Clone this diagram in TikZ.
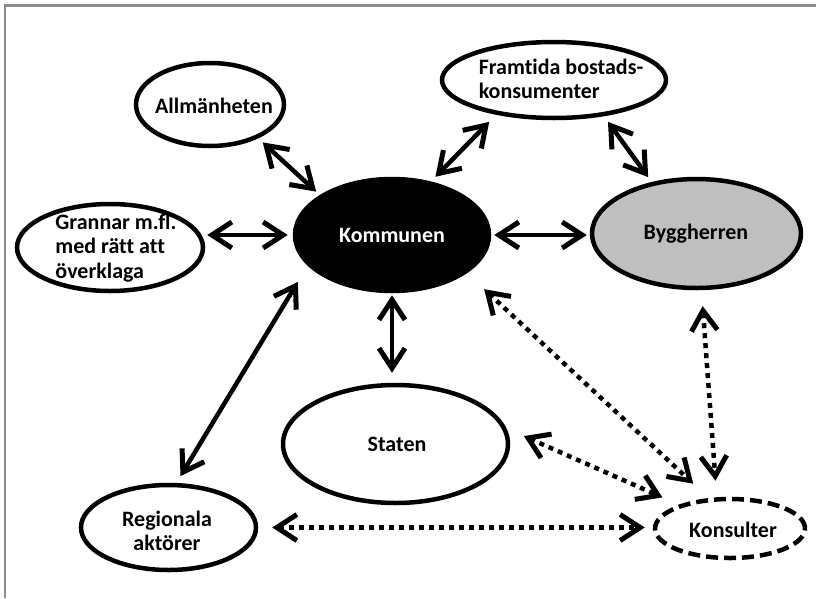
\documentclass[tikz,border=0pt]{standalone}
\usepackage{fontspec}
\setmainfont{Carlito}[RawFeature={-liga;-clig;-calt;-dlig}]
\usetikzlibrary{arrows.meta,shapes.geometric}
\definecolor{framegray}{gray}{0.55}
\definecolor{builderfill}{gray}{0.75}
\begin{document}
\begin{tikzpicture}[x=1pt,y=-1pt,
  actor/.style={ellipse, draw=black, line width=4.5pt, fill=white, inner sep=0pt},
  lbl/.style={font=\fontsize{22}{24.5}\selectfont\bfseries, inner sep=0pt},
  barb/.tip={Straight Barb[length=20pt,width=26pt,line width=5pt]},
  link/.style={line width=4.5pt, barb-barb},
  loose/.style={link, line cap=butt, dash pattern=on 5pt off 5pt},
]
\useasboundingbox (0,0) rectangle (816,598);
% frame
\draw[framegray, line width=2.5pt] (4.8,598) -- (4.8,5.7) -- (816,5.7);

% actors
\node[actor, minimum width=148pt, minimum height=83pt]  (allm) at (210,104.5) {};
\node[actor, minimum width=224pt, minimum height=76pt]  (fram) at (554,80) {};
\node[actor, minimum width=186pt, minimum height=87pt]  (gran) at (110,247.5) {};
\node[actor, fill=black, minimum width=194pt, minimum height=112pt] (kom) at (392,235) {};
\node[actor, fill=builderfill, minimum width=209pt, minimum height=109pt] (bygg) at (696.5,233.5) {};
\node[actor, minimum width=225pt, minimum height=118pt] (stat) at (395.5,444) {};
\node[actor, minimum width=175pt, minimum height=85pt]  (reg) at (168.5,527.5) {};
\node[actor, dash pattern=on 12pt off 6pt, minimum width=150pt, minimum height=59pt] (kons) at (730,528.5) {};

% labels (letter pairs kept apart so no ligatures form)
\node[lbl] (allm-t) at (214,106) {Allmänheten};
\node[lbl, align=left] (fram-t) at (561,79) {Framt\kern0pt ida bostads-\\konsumenter};
\node[lbl, align=left] (gran-t) at (116,248) {Grannar m.f\kern0pt l.\\med rätt at\kern0pt t\\överklaga};
\node[lbl, text=white] (kom-t) at (392,235) {Kommunen};
\node[lbl] (bygg-t) at (696,234) {Byggherren};
\node[lbl] (stat-t) at (397,444) {Staten};
\node[lbl, align=center] (reg-t) at (167,531) {Regionala\\aktörer};
\node[lbl] (kons-t) at (733,530) {Konsulter};

% solid relations
\draw[link, shorten <=6pt, shorten >=5pt] (allm.-35.5) -- (kom.151.3);
\draw[link, shorten <=10pt, shorten >=6.5pt] (fram.211.5) -- (kom.54.3);
\draw[link, shorten <=7pt, shorten >=6pt] (fram.-36) -- (bygg.131);
\draw[link, shorten <=2pt, shorten >=5pt] (kom.west -| gran.east) -- (kom.west);
\draw[link, shorten <=3pt, shorten >=3pt] (kom.east) -- (kom.east -| bygg.west);
\draw[link, shorten <=2pt, shorten >=10pt] (kom.south) -- (kom.south |- stat.north);
\draw[link, shorten <=19pt, shorten >=8pt] (kom.200) -- (reg.80.4);

% dotted relations to the consultants
\draw[loose, shorten <=23.5pt, shorten >=21pt] (kom.-27.9) -- (kons.125);
\draw[loose, shorten <=16pt, shorten >=16.6pt] (bygg.-85) -- (kons.113.7);
\draw[loose, shorten <=19pt, shorten >=18pt] (stat.8.6) -- (kons.155.3);
\draw[loose, shorten <=14pt, shorten >=8pt] (reg.east) -- (reg.east -| kons.west);
\end{tikzpicture}
\end{document}
